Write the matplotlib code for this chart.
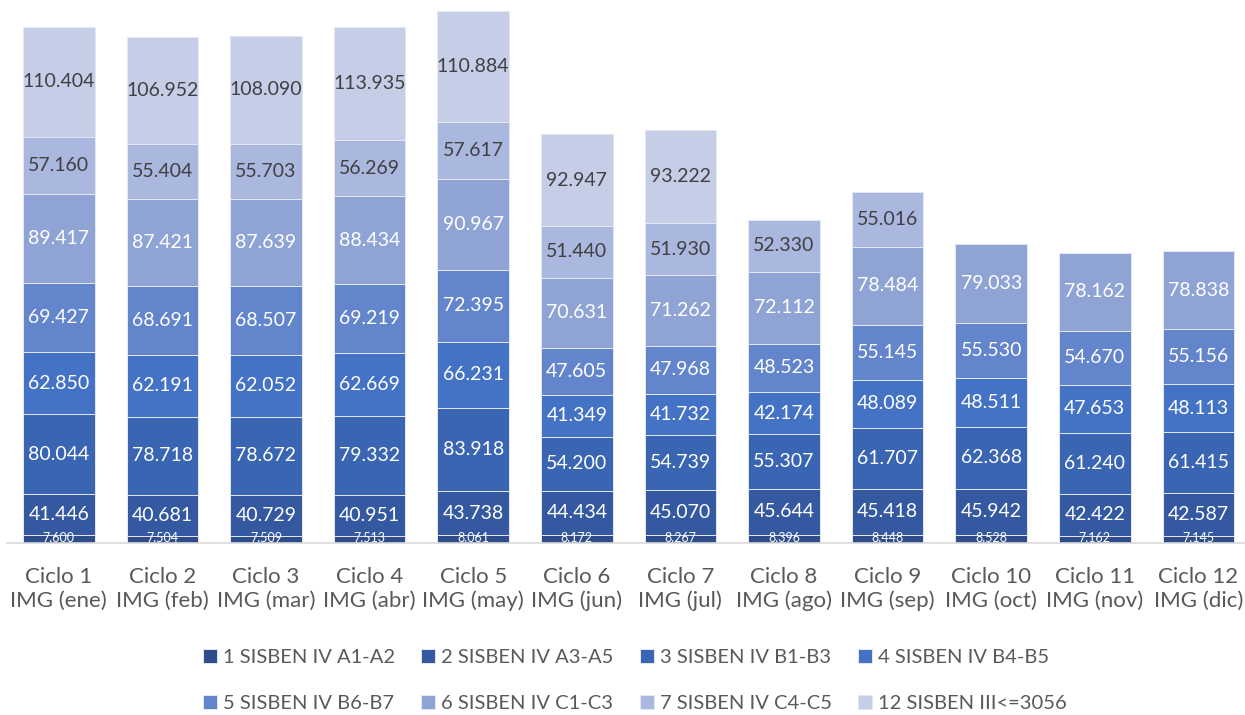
import numpy as np
import matplotlib.pyplot as plt

plt.rcParams['font.family'] = ['Lato', 'DejaVu Sans']

ciclos = ['Ciclo 1\nIMG (ene)', 'Ciclo 2\nIMG (feb)', 'Ciclo 3\nIMG (mar)', 'Ciclo 4\nIMG (abr)',
          'Ciclo 5\nIMG (may)', 'Ciclo 6\nIMG (jun)', 'Ciclo 7\nIMG (jul)', 'Ciclo 8\nIMG (ago)',
          'Ciclo 9\nIMG (sep)', 'Ciclo 10\nIMG (oct)', 'Ciclo 11\nIMG (nov)', 'Ciclo 12\nIMG (dic)']

nombres = ['1 SISBEN IV A1-A2', '2 SISBEN IV A3-A5', '3 SISBEN IV B1-B3', '4 SISBEN IV B4-B5',
           '5 SISBEN IV B6-B7', '6 SISBEN IV C1-C3', '7 SISBEN IV C4-C5', '12 SISBEN III<=3056']

nan = np.nan
s1 = [7.600, 7.504, 7.509, 7.513, 8.061, 8.172, 8.267, 8.396, 8.448, 8.528, 7.162, 7.145]
s2 = [41.446, 40.681, 40.729, 40.951, 43.738, 44.434, 45.070, 45.644, 45.418, 45.942, 42.422, 42.587]
s3 = [80.044, 78.718, 78.672, 79.332, 83.918, 54.200, 54.739, 55.307, 61.707, 62.368, 61.240, 61.415]
s4 = [62.850, 62.191, 62.052, 62.669, 66.231, 41.349, 41.732, 42.174, 48.089, 48.511, 47.653, 48.113]
s5 = [69.427, 68.691, 68.507, 69.219, 72.395, 47.605, 47.968, 48.523, 55.145, 55.530, 54.670, 55.156]
s6 = [89.417, 87.421, 87.639, 88.434, 90.967, 70.631, 71.262, 72.112, 78.484, 79.033, 78.162, 78.838]
s7 = [57.160, 55.404, 55.703, 56.269, 57.617, 51.440, 51.930, 52.330, 55.016, nan, nan, nan]
s12 = [110.404, 106.952, 108.090, 113.935, 110.884, 92.947, 93.222, nan, nan, nan, nan, nan]

series = [s1, s2, s3, s4, s5, s6, s7, s12]
colores = ['#2F4C8B', '#3459A0', '#3A65B2', '#4472C4', '#6385CB', '#8FA3D5', '#AAB7DE', '#C6CDE7']
texto = ['white'] * 6 + ['#404040', '#404040']

fig = plt.figure(figsize=(12.45, 7.15), dpi=100)
ax = fig.add_axes([7 / 1245, 1 - 543 / 715, 1238 / 1245, 538 / 715])

x = np.arange(len(ciclos))
base = np.zeros(len(ciclos))
barras = []
for i, s in enumerate(series):
    v = np.array(s, dtype=float)
    h = np.nan_to_num(v)
    b = ax.bar(x, h, 0.69, bottom=base, color=colores[i], edgecolor='#E4E8F2', linewidth=0.7,
               label=nombres[i])
    barras.append(b)
    for j in range(len(x)):
        if np.isnan(v[j]):
            continue
        lbl = f'{v[j]:.3f}'
        if i == 0:
            ax.text(x[j], base[j] + h[j] / 2 + 1, lbl, ha='center', va='center',
                    fontsize=9, color='white')
        else:
            ax.text(x[j], base[j] + h[j] / 2, lbl, ha='center', va='center',
                    fontsize=14, color=texto[i])
    base = base + h

ax.set_xlim(-0.5, 11.45)
ax.set_ylim(0, 540)
ax.set_yticks([])
for sp in ['top', 'right', 'left']:
    ax.spines[sp].set_visible(False)
ax.spines['bottom'].set_color('#D9D9D9')
ax.spines['bottom'].set_linewidth(1.2)
ax.set_xticks(x)
ax.set_xticklabels(ciclos, fontsize=16, color='#595959', linespacing=1.25)
ax.tick_params(axis='x', length=0, pad=17)

# legend filled row by row
orden = [0, 4, 1, 5, 2, 6, 3, 7]
fig.legend([barras[k] for k in orden], [nombres[k] for k in orden],
           loc='center', bbox_to_anchor=(0.51, 0.048), ncol=4, frameon=False,
           fontsize=14.5, labelcolor='#595959', handlelength=0.7, handleheight=0.7,
           handletextpad=0.3, columnspacing=1.3, labelspacing=1.45)

fig.savefig('out.png', dpi=100)
